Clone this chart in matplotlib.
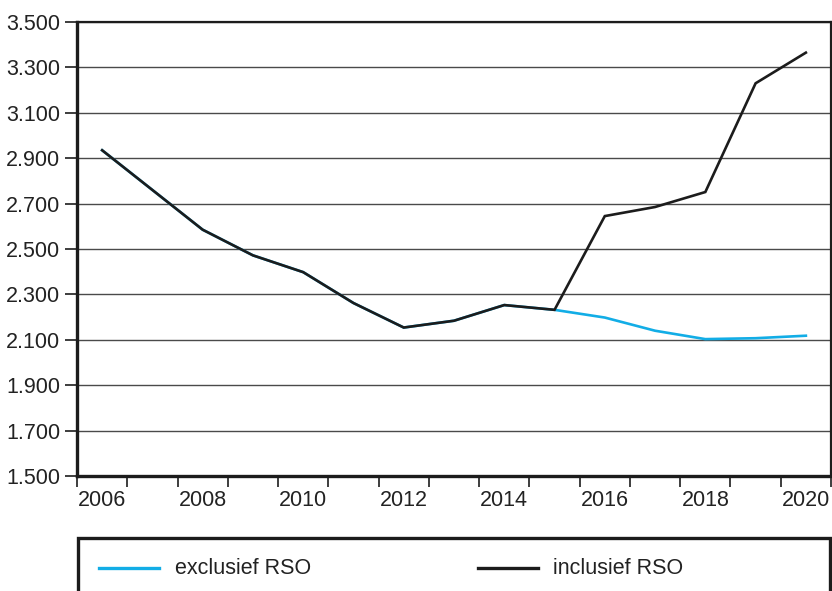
import matplotlib
matplotlib.use("Agg")
import matplotlib.pyplot as plt
from matplotlib.patches import Rectangle
from matplotlib.lines import Line2D
from matplotlib.ticker import FuncFormatter

years = list(range(2006, 2021))
inclusief_rso = [2935, 2760, 2585, 2472, 2398, 2262, 2154, 2184, 2253, 2232,
                 2645, 2685, 2751, 3230, 3365]
exclusief_rso = [2935, 2760, 2585, 2472, 2398, 2262, 2154, 2184, 2253, 2232,
                 2198, 2140, 2103, 2107, 2118]
series_labels = ["exclusief RSO", "inclusief RSO"]
y_ticks = list(range(1500, 3501, 200))

BLUE = "#12ade6"
BLACK = "#1c1c1c"
TXT = "#222222"
FS = 15.5

plt.rcParams['font.family'] = ['Liberation Sans', 'DejaVu Sans']

W, H = 832, 591
fig = plt.figure(figsize=(W / 100, H / 100), dpi=100)
L, R, T, B = 77, 831, 22, 476
ax = fig.add_axes([L / W, 1 - B / H, (R - L) / W, (B - T) / H])

x = list(range(len(years)))
ax.plot(x, exclusief_rso, color=BLUE, lw=1.9, solid_joinstyle='miter', zorder=3)
ax.plot(x, inclusief_rso, color=BLACK, lw=1.9, solid_joinstyle='miter', zorder=4)

ax.set_xlim(-0.5, len(years) - 0.5)
ax.set_ylim(1500, 3500)
ax.set_yticks(y_ticks)
ax.yaxis.set_major_formatter(FuncFormatter(lambda v, p: f"{int(v):,}".replace(",", ".")))
ax.yaxis.grid(True, color="#4a4a4a", lw=1.0)
ax.set_axisbelow(True)

ax.set_xticks(x[::2])
ax.set_xticklabels([str(y) for y in years[::2]])
ax.set_xticks([i - 0.5 for i in range(len(years) + 1)], minor=True)
ax.tick_params(axis='x', which='major', length=0, pad=10, labelsize=FS, labelcolor=TXT)
ax.tick_params(axis='x', which='minor', length=8, width=1.2, color=BLACK, direction='out')
ax.tick_params(axis='y', which='major', length=9, width=1.2, color=BLACK, pad=3,
               labelsize=FS, labelcolor=TXT)

for side in ['left', 'bottom']:
    ax.spines[side].set_linewidth(2.4)
    ax.spines[side].set_color(BLACK)
for side in ['top', 'right']:
    ax.spines[side].set_linewidth(1.6)
    ax.spines[side].set_color(BLACK)

def fx(px):
    return px / W

def fy(py):
    return 1 - py / H

box = Rectangle((fx(78), fy(625)), fx(830) - fx(78), fy(538) - fy(625),
                transform=fig.transFigure, fill=False, lw=2.4, edgecolor=BLACK,
                clip_on=False)
fig.add_artist(box)

leg_y = fy(568)
fig.add_artist(Line2D([fx(99), fx(159)], [leg_y, leg_y], transform=fig.transFigure,
                      color=BLUE, lw=2.4))
fig.text(fx(175), leg_y, series_labels[0], fontsize=FS, color=TXT, va='center', ha='left')
fig.add_artist(Line2D([fx(478), fx(538)], [leg_y, leg_y], transform=fig.transFigure,
                      color=BLACK, lw=2.4))
fig.text(fx(553), leg_y, series_labels[1], fontsize=FS, color=TXT, va='center', ha='left')

fig.savefig("out.png", dpi=100)
